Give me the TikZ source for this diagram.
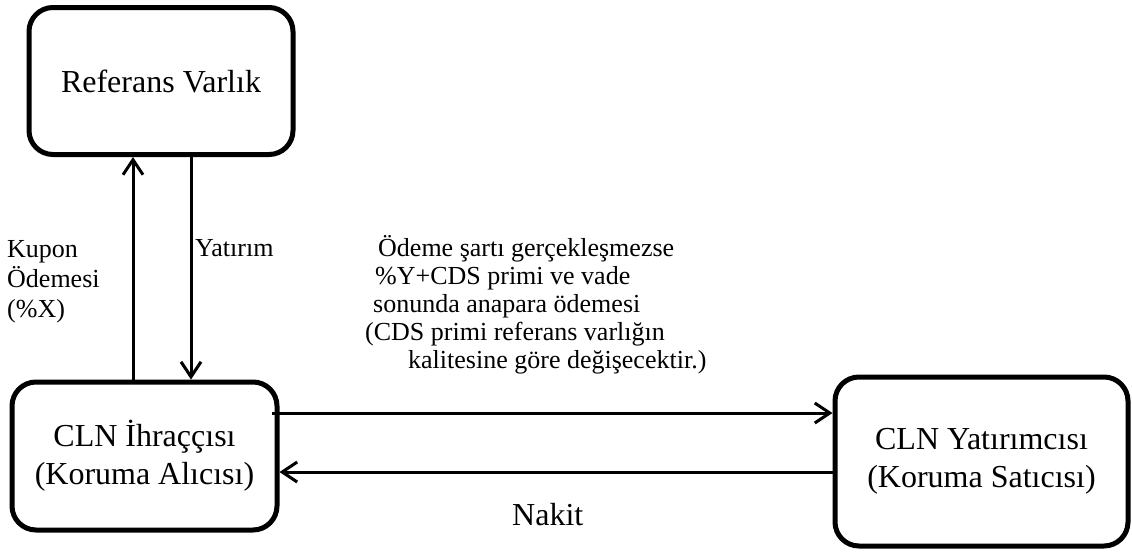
\documentclass[tikz,border=0pt]{standalone}
\usepackage{fontspec}
\setmainfont{Liberation Serif}
\usetikzlibrary{arrows.meta}

\begin{document}
\begin{tikzpicture}[
    x=1pt,y=-1pt,
    big/.style={font=\fontsize{32}{38}\selectfont},
    small/.style={font=\fontsize{26}{30}\selectfont},
    party/.style={draw=black, line width=5pt, rounded corners=24pt, big, align=center},
    flow/.style={draw=black, line width=3pt, -{Straight Barb[length=15pt,width=20pt]}}
]
    \useasboundingbox (0,0) rectangle (1132,552);

    \node[party, minimum width=264pt, minimum height=147pt] (ref) at (161,81) {Referans Varlık};
    \node[party, minimum width=265pt, minimum height=148pt] (issuer) at (144.5,456) {CLN İhraççısı\\(Koruma Alıcısı)};
    \node[party, minimum width=293pt, minimum height=169pt] (investor) at (981.5,461.5) {CLN Yatırımcısı\\(Koruma Satıcısı)};

    % coupon up, investment down
    \draw[flow] ([xshift=-28pt]ref.south |- issuer.north) -- ([xshift=-28pt]ref.south);
    \draw[flow] ([xshift=30pt]ref.south) -- ([xshift=30pt]ref.south |- issuer.north);

    % payments between issuer and investor
    \draw[flow] ([xshift=-8pt,yshift=43pt]issuer.east) -- ([yshift=43pt]issuer.east -| investor.west);
    \draw[flow] ([yshift=-16pt]issuer.east -| investor.west) -- ([yshift=-16pt]issuer.east);

    \node[small, anchor=base west, align=left, inner sep=0pt] (kupon) at (7,317) {Kupon\\Ödemesi\\(\%X)};
    \node[small, anchor=base west, inner sep=0pt] (yatirim) at (195,256) {Yatırım};
    \node[anchor=base west, align=left, inner sep=0pt, font=\fontsize{26}{28}\selectfont] (kosul) at (365,368) {%
        \hspace*{13pt}Ödeme şartı gerçekleşmezse\\
        \hspace*{10pt}\%Y+CDS primi ve vade\\
        \hspace*{8pt}sonunda anapara ödemesi\\
        (CDS primi referans varlığın\\
        \hspace*{43pt}kalitesine göre değişecektir.)};
    \node[big, anchor=base west, inner sep=0pt] (nakit) at (512,525) {Nakit};
\end{tikzpicture}
\end{document}
